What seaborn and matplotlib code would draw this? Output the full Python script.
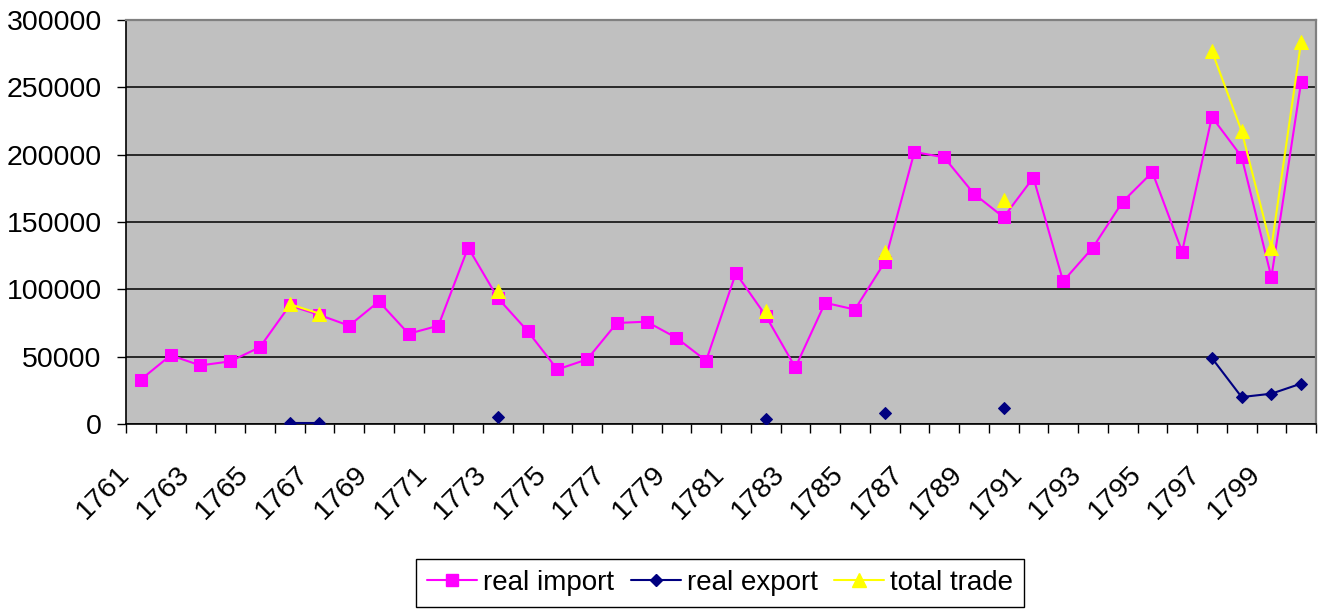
import numpy as np
import pandas as pd
import matplotlib
matplotlib.use("Agg")
import matplotlib.pyplot as plt
import matplotlib.transforms as mtransforms
from matplotlib.lines import Line2D
import seaborn as sns

years = list(range(1761, 1801))
real_import = [33000, 51000, 43500, 46500, 57000, 88000, 81000, 73000, 91000, 67000,
               73000, 131000, 93500, 69000, 40500, 48000, 75000, 76000, 64000, 47000,
               112000, 80500, 42000, 90000, 85000, 120000, 202000, 198000, 171000, 153500,
               183000, 106000, 131000, 165000, 187000, 128000, 228000, 198500, 109000, 254000]
nan = np.nan
real_export = [nan, nan, nan, nan, nan, 1000, 1000, nan, nan, nan,
               nan, nan, 5000, nan, nan, nan, nan, nan, nan, nan,
               nan, 3500, nan, nan, nan, 8000, nan, nan, nan, 12000,
               nan, nan, nan, nan, nan, nan, 49000, 20000, 22500, 30000]
total_trade = [nan, nan, nan, nan, nan, 89000, 82000, nan, nan, nan,
               nan, nan, 98500, nan, nan, nan, nan, nan, nan, nan,
               nan, 84000, nan, nan, nan, 127500, nan, nan, nan, 166000,
               nan, nan, nan, nan, nan, nan, 277000, 217500, 131000, 284000]

series = [
    ("real import", real_import, "#FF00FF", "s", 9),
    ("real export", real_export, "#000080", "D", 6.4),
    ("total trade", total_trade, "#FFFF00", "^", 10),
]

sns.set_style("white")
plt.rcParams["font.family"] = ["Liberation Sans", "DejaVu Sans"]
plt.rcParams["xtick.bottom"] = True
plt.rcParams["ytick.left"] = True
plt.rcParams["text.color"] = "black"
plt.rcParams["xtick.color"] = "black"
plt.rcParams["ytick.color"] = "black"

fig = plt.figure(figsize=(13.24, 6.10), dpi=100)
ax = fig.add_axes([126 / 1324, 1 - 424 / 610, (1316 - 126) / 1324, (424 - 20) / 610])
ax.set_facecolor("#C0C0C0")

pos = np.arange(len(years))
for name, vals, color, marker, ms in series:
    df = pd.DataFrame({"x": pos, "y": vals})
    # break the line where a year is missing
    df["seg"] = df["y"].isna().cumsum()
    df = df.dropna()
    sns.lineplot(data=df, x="x", y="y", units="seg", estimator=None, color=color,
                 marker=marker, markersize=ms, markeredgecolor=color, linewidth=1.5,
                 ax=ax, legend=False, zorder=3)

ax.set_xlim(-0.5, len(years) - 0.5)
ax.set_ylim(0, 300000)
ax.set_yticks(np.arange(0, 300001, 50000))
ax.set_yticklabels([str(v) for v in range(0, 300001, 50000)], fontsize=20.5)
ax.yaxis.grid(True, color="black", linewidth=1.1)
ax.set_axisbelow(True)

ax.set_xticks(np.arange(-0.5, len(years), 1.0))
ax.set_xticklabels([])
ax.set_xticks(pos[::2], minor=True)
ax.set_xticklabels([str(y) for y in years[::2]], minor=True, rotation=45,
                   ha="right", va="center", rotation_mode="anchor", fontsize=20.5)
ax.tick_params(axis="x", which="major", bottom=True, direction="out", length=6.5,
               width=1, color="black")
ax.tick_params(axis="x", which="minor", bottom=True, length=0, pad=0)
ax.tick_params(axis="y", left=True, direction="out", length=6.5, width=1,
               color="black", pad=11)
offset = mtransforms.ScaledTranslation(-15 / 100, -46 / 100, fig.dpi_scale_trans)
for lbl in ax.get_xticklabels(minor=True):
    lbl.set_transform(lbl.get_transform() + offset)
ax.set_xlabel("")
ax.set_ylabel("")

for side in ["top", "right"]:
    ax.spines[side].set_color("#808080")
    ax.spines[side].set_linewidth(1.6)
for side in ["left", "bottom"]:
    ax.spines[side].set_color("black")
    ax.spines[side].set_linewidth(1.2)

handles = [Line2D([0], [0], color=c, marker=m, markersize=ms, markeredgecolor=c,
                  linewidth=1.5) for _, _, c, m, ms in series]
leg = fig.legend(handles, [s[0] for s in series], loc="center",
                 bbox_to_anchor=(720 / 1324, 1 - 583 / 610), ncol=3, fontsize=20,
                 frameon=True, fancybox=False, edgecolor="black", handlelength=1.8,
                 handletextpad=0.22, columnspacing=0.6, borderpad=0.4,
                 borderaxespad=0, framealpha=1)
leg.get_frame().set_linewidth(1.0)

fig.savefig("out.png", dpi=100)
